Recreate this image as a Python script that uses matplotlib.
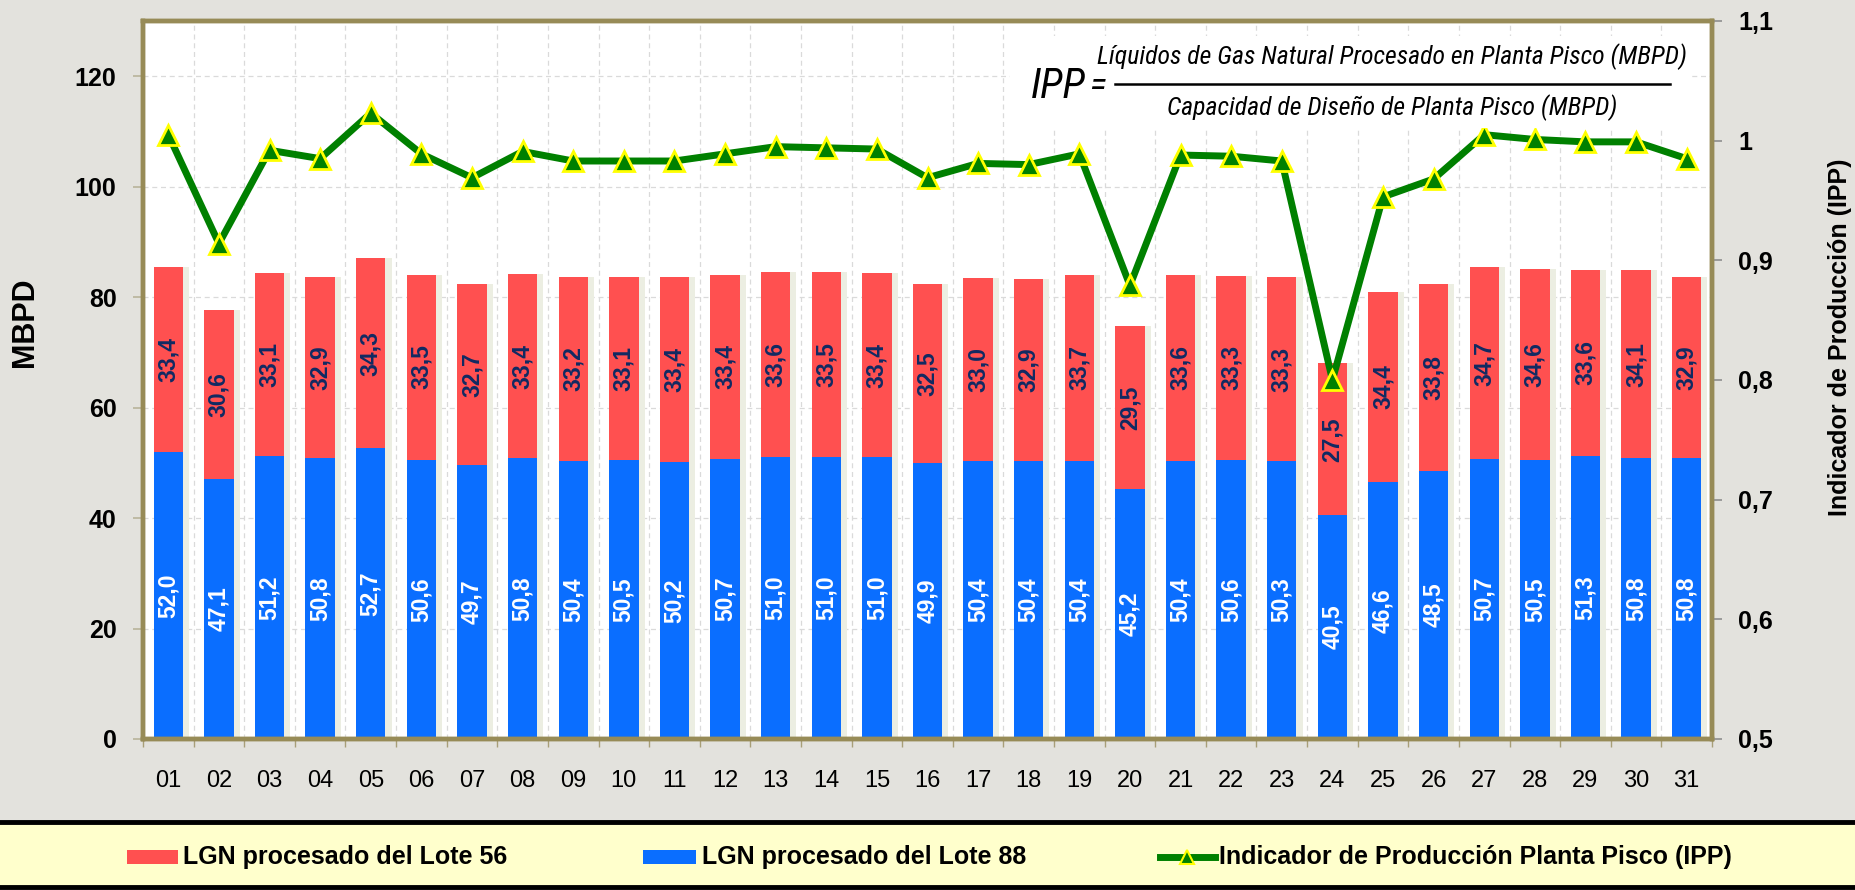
import numpy as np
import matplotlib
matplotlib.use("Agg")
import matplotlib.pyplot as plt
from matplotlib.patches import Rectangle
from matplotlib.lines import Line2D

# ---------------- data ----------------
days = [f"{d:02d}" for d in range(1, 32)]
lote88 = [52.0, 47.1, 51.2, 50.8, 52.7, 50.6, 49.7, 50.8, 50.4, 50.5, 50.2, 50.7, 51.0, 51.0, 51.0,
          49.9, 50.4, 50.4, 50.4, 45.2, 50.4, 50.6, 50.3, 40.5, 46.6, 48.5, 50.7, 50.5, 51.3, 50.8, 50.8]
lote56 = [33.4, 30.6, 33.1, 32.9, 34.3, 33.5, 32.7, 33.4, 33.2, 33.1, 33.4, 33.4, 33.6, 33.5, 33.4,
          32.5, 33.0, 32.9, 33.7, 29.5, 33.6, 33.3, 33.3, 27.5, 34.4, 33.8, 34.7, 34.6, 33.6, 34.1, 32.9]
ipp = [1.005, 0.914, 0.992, 0.985, 1.023, 0.989, 0.969, 0.991, 0.983, 0.983, 0.983, 0.989, 0.995,
       0.994, 0.993, 0.969, 0.981, 0.980, 0.989, 0.879, 0.988, 0.987, 0.983, 0.800, 0.953, 0.968,
       1.005, 1.001, 0.999, 0.999, 0.985]
left_ticks = [0, 20, 40, 60, 80, 100, 120]
right_ticks = [0.5, 0.6, 0.7, 0.8, 0.9, 1.0, 1.1]
right_labels = ["0,5", "0,6", "0,7", "0,8", "0,9", "1", "1,1"]

# ---------------- style ----------------
W, H = 1856, 890
BG = "#E3E2DD"
BORDER = "#978B57"
RED = "#FF5050"
BLUE = "#0A6EFF"
GREEN = "#008000"
NAVY = "#102A63"
FONT = "Liberation Sans"
plt.rcParams["font.family"] = [FONT, "DejaVu Sans"]

fig = plt.figure(figsize=(W / 100, H / 100), dpi=100, facecolor=BG)

def fx(px):
    return px / W

def fy(py):
    return 1 - py / H

ax = fig.add_axes([fx(143), fy(739), fx(1712) - fx(143), fy(21) - fy(739)])
ax.set_facecolor("white")
x = np.arange(len(days))
bw = 0.58

# subtle shadows
ax.bar(x + 0.12, np.array(lote88) + np.array(lote56), width=bw, color="#ECEEE2", zorder=1.5)
ax.bar(x, lote88, width=bw, color=BLUE, zorder=2)
ax.bar(x, lote56, bottom=lote88, width=bw, color=RED, zorder=2)

for i in range(len(days)):
    b, r = lote88[i], lote56[i]
    ax.text(x[i], b / 2, f"{b:.1f}".replace(".", ","), rotation=90, ha="center", va="center",
            color="white", fontsize=16.5, fontweight="bold", zorder=3)
    ax.text(x[i], b + r / 2, f"{r:.1f}".replace(".", ","), rotation=90, ha="center", va="center",
            color=NAVY, fontsize=16.5, fontweight="bold", zorder=3)

ax.set_xlim(-0.5, len(days) - 0.5)
ax.set_ylim(0, 130)
ax.set_yticks(left_ticks)
ax.set_yticklabels([str(t) for t in left_ticks], fontsize=18, fontweight="bold")
ax.set_xticks(x)
ax.set_xticklabels(days, fontsize=17)
ax.set_xticks(np.arange(-0.5, len(days)), minor=True)
ax.tick_params(axis="x", which="major", length=0, pad=22)
ax.tick_params(axis="x", which="minor", length=6, color="#A89F78", width=1)
ax.tick_params(axis="y", which="major", length=7, color="#B8B49A", width=1.2, pad=12)
ax.grid(axis="y", which="major", ls=(0, (4, 3)), color="#DADADA", lw=0.9, zorder=0)
ax.grid(axis="x", which="minor", ls=(0, (4, 3)), color="#DADADA", lw=0.9, zorder=0)
ax.set_axisbelow(True)
for s in ax.spines.values():
    s.set_color(BORDER)
    s.set_linewidth(3.2)

ax2 = ax.twinx()
ax2.plot(x, ipp, color=GREEN, lw=5, marker="^", ms=15, mfc=GREEN, mec="#FFFF00", mew=2, zorder=5)
ax2.set_ylim(0.5, 1.1)
ax2.set_yticks(right_ticks)
ax2.set_yticklabels(right_labels, fontsize=18, fontweight="bold")
ax2.tick_params(axis="y", length=7, color="#8E8E8E", width=1.2, pad=12)
for s in ax2.spines.values():
    s.set_color(BORDER)
    s.set_linewidth(3.2)

# axis titles
fig.text(fx(25), fy(322), "MBPD", rotation=90, ha="center", va="center", fontsize=22, fontweight="bold")
fig.text(fx(1840), fy(337), "Indicador de Producción (IPP)", rotation=90, ha="center", va="center",
         fontsize=18, fontweight="bold")

# formula box
fig.patches.append(Rectangle((fx(1010), fy(128)), fx(1690) - fx(1010), fy(36) - fy(128),
                             transform=fig.transFigure, facecolor="white", edgecolor="none", zorder=1))
FORM = ["Roboto Condensed", "Liberation Sans Narrow", "Liberation Serif", "DejaVu Serif"]
fig.text(fx(1031), fy(86), "IPP", ha="left", va="center", fontsize=30, style="italic",
         family=FORM, zorder=3)
fig.text(fx(1089), fy(86), "=", ha="left", va="center", fontsize=26, style="italic",
         family=FORM, zorder=3)
fig.text(fx(1392), fy(57), "Líquidos de Gas Natural Procesado en Planta Pisco (MBPD)", ha="center",
         va="center", fontsize=18.5, style="italic", family=FORM, zorder=3)
fig.text(fx(1392), fy(108), "Capacidad de Diseño de Planta Pisco (MBPD)", ha="center",
         va="center", fontsize=18.5, style="italic", family=FORM, zorder=3)
fig.lines.append(Line2D([fx(1115), fx(1670)], [fy(84), fy(84)], transform=fig.transFigure,
                        color="black", lw=1.8, zorder=3))

# legend box
fig.patches.append(Rectangle((fx(-5), fy(887)), fx(1866), fy(822) - fy(887), transform=fig.transFigure,
                             facecolor="#FFFFCC", edgecolor="black", lw=3.5, zorder=1))
ly = 857
fig.patches.append(Rectangle((fx(127), fy(ly + 7)), fx(51), fy(ly - 7) - fy(ly + 7),
                             transform=fig.transFigure, facecolor=RED, edgecolor="none", zorder=2))
fig.text(fx(183), fy(ly), "LGN procesado del Lote 56", ha="left", va="center", fontsize=18,
         fontweight="bold", zorder=3)
fig.patches.append(Rectangle((fx(643), fy(ly + 7)), fx(53), fy(ly - 7) - fy(ly + 7),
                             transform=fig.transFigure, facecolor=BLUE, edgecolor="none", zorder=2))
fig.text(fx(702), fy(ly), "LGN procesado del Lote 88", ha="left", va="center", fontsize=18,
         fontweight="bold", zorder=3)
fig.lines.append(Line2D([fx(1160), fx(1215)], [fy(ly), fy(ly)], transform=fig.transFigure,
                        color=GREEN, lw=5, zorder=3))
fig.lines.append(Line2D([fx(1187)], [fy(ly)], transform=fig.transFigure, color=GREEN, marker="^",
                        ms=10, mfc=GREEN, mec="#FFFF00", mew=1.5, lw=0, zorder=4))
fig.text(fx(1219), fy(ly), "Indicador de Producción Planta Pisco (IPP)", ha="left", va="center",
         fontsize=18, fontweight="bold", zorder=3)

fig.savefig("out.png", dpi=100, facecolor=BG)
